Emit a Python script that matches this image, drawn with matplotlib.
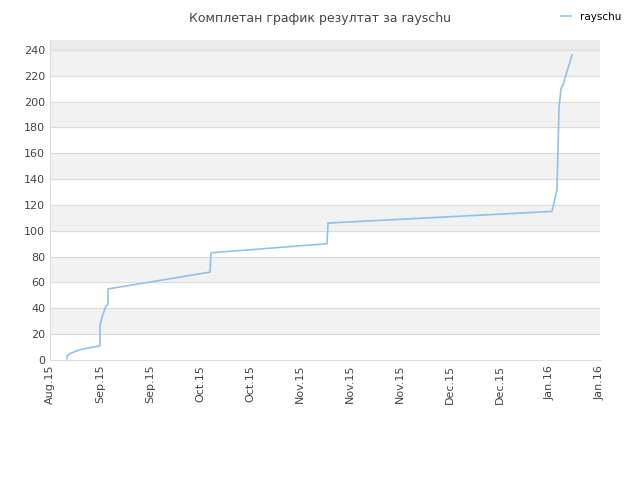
import matplotlib
matplotlib.use("Agg")
import matplotlib.pyplot as plt

# x in days since start of axis (each tick ~15 days)
days = [5.1, 5.1, 6.0, 9.0, 15.0, 15.0, 15.6, 16.8, 17.4, 17.4, 48.0, 48.3, 83.1, 83.4, 150.6, 152.1, 152.7, 153.3, 153.9, 156.6]
values = [1, 3, 5, 8, 11, 27, 33, 42, 43, 55, 68, 83, 90, 106, 115, 132, 195, 210, 213, 236]
tick_labels = ["Aug.15", "Sep.15", "Sep.15", "Oct.15", "Oct.15", "Nov.15", "Nov.15", "Nov.15", "Dec.15", "Dec.15", "Jan.16", "Jan.16"]

fig = plt.figure(figsize=(6.4, 4.8), dpi=100)
ax = fig.add_axes([50/640, 120/480, 550/640, 320/480])
ymax = 247.7
ax.set_xlim(0, 165)
ax.set_ylim(0, ymax)
for lo in range(20, 240, 40):
    ax.axhspan(lo, lo + 20, color="#f2f2f2", zorder=0)
ax.axhspan(240, ymax, color="#ebebeb", zorder=0)
for y in range(20, 241, 20):
    ax.axhline(y, color="#dddddd", lw=0.8, zorder=1)
ax.plot(days, values, color="#90c0f0", lw=1.2, zorder=3, label="rayschu")
ax.set_yticks(range(0, 241, 20))
ax.set_xticks([i * 15 for i in range(12)])
ax.set_xticklabels(tick_labels, rotation=90)
ax.tick_params(colors="#444444", labelsize=8, length=0)
for s in ["top", "right"]:
    ax.spines[s].set_visible(False)
for s in ["left", "bottom"]:
    ax.spines[s].set_color("#dddddd")
fig.text(0.5, 0.975, "Комплетан график резултат за rayschu", ha="center", va="top", fontsize=9, color="#444444")
fig.legend(loc="upper right", bbox_to_anchor=(0.985, 0.995), frameon=False, fontsize=7.5, handlelength=1.0)
fig.savefig("out.png", dpi=100, facecolor="white")
